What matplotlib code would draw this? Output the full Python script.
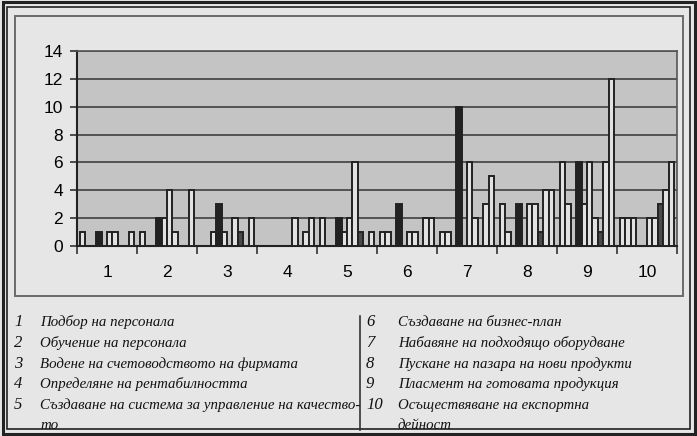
import numpy as np
import matplotlib.pyplot as plt
from matplotlib.patches import Rectangle
from matplotlib.lines import Line2D

groups = ["1", "2", "3", "4", "5", "6", "7", "8", "9", "10"]

# ten bars inside each group left to right
r1 = [1, 1, 0, 0, 2, 1, 1, 3, 6, 2]
r2 = [0, 0, 0, 0, 0, 1, 1, 1, 3, 2]
r3 = [0, 0, 1, 0, 0, 0, 0, 0, 0, 2]
r4 = [1, 2, 3, 0, 2, 3, 10, 3, 6, 0]
r5 = [0, 2, 1, 0, 1, 0, 0, 0, 3, 0]
r6 = [1, 4, 0, 0, 2, 1, 6, 3, 6, 2]
r7 = [1, 1, 2, 2, 6, 1, 2, 3, 2, 2]
r8 = [0, 0, 1, 0, 1, 0, 0, 1, 1, 3]
r9 = [0, 0, 0, 1, 0, 2, 3, 4, 6, 4]
r10 = [1, 4, 2, 2, 1, 2, 5, 4, 12, 6]

left_items = [
    ("1", "Подбор на персонала"),
    ("2", "Обучение на персонала"),
    ("3", "Водене на счетоводството на фирмата"),
    ("4", "Определяне на рентабилността"),
    ("5", "Създаване на система за управление на качество-"),
    ("", "то"),
]
right_items = [
    ("6", "Създаване на бизнес-план"),
    ("7", "Набавяне на подходящо оборудване"),
    ("8", "Пускане на пазара на нови продукти"),
    ("9", "Пласмент на готовата продукция"),
    ("10", "Осъществяване на експортна"),
    ("", "дейност"),
]

series = [r1, r2, r3, r4, r5, r6, r7, r8, r9, r10]
fills = ["#e2e2e2"] * 10
fills[3] = "#222222"
fills[7] = "#4a4a4a"

W, H = 697, 436
fig = plt.figure(figsize=(W / 100, H / 100), dpi=100)
fig.patch.set_facecolor("#e6e6e6")


def fx(px):
    return px / W


def fy(py):
    return 1 - py / H


# outer double frame and chart box
for off, lw in [(2.5, 2.2), (7, 1.2)]:
    fig.add_artist(Rectangle((fx(off), fy(H - off)), fx(W - 2 * off), (H - 2 * off) / H,
                             transform=fig.transFigure, fill=False, edgecolor="#222222", lw=lw))
fig.add_artist(Rectangle((fx(15), fy(296)), fx(683 - 15), (296 - 16) / H,
                         transform=fig.transFigure, fill=False, edgecolor="#6a6a6a", lw=1.4))

ax = fig.add_axes([fx(77), fy(246), fx(677 - 77), (246 - 51) / H])
ax.set_facecolor("#c4c4c4")

x = np.arange(1, len(groups) + 1)
bw = 0.09
for k, vals in enumerate(series):
    v = np.array(vals, dtype=float)
    pos = x - 0.45 + bw * (k + 0.5)
    m = v > 0
    ax.bar(pos[m], v[m], width=bw, color=fills[k], edgecolor="#222222", linewidth=1.4, zorder=3)

ax.set_xlim(0.5, 10.5)
ax.set_ylim(0, 14)
ax.set_yticks(range(0, 15, 2))
ax.yaxis.grid(True, color="#4a4a4a", linewidth=1.3, zorder=1)
ax.set_axisbelow(True)

ax.set_xticks(x)
ax.set_xticklabels(groups)
ax.set_xticks(np.arange(0.5, 11, 1), minor=True)
ax.tick_params(axis="x", which="major", length=0, pad=14, labelsize=12.5)
ax.tick_params(axis="x", which="minor", length=6, width=1.2, color="#333333", direction="out")
ax.tick_params(axis="y", length=5, width=1.2, color="#333333", pad=5, labelsize=12.5)
for lab in ax.get_xticklabels() + ax.get_yticklabels():
    lab.set_fontfamily("Liberation Sans")

for side in ["left", "bottom"]:
    ax.spines[side].set_color("#222222")
    ax.spines[side].set_linewidth(1.5)
for side in ["top", "right"]:
    ax.spines[side].set_color("#555555")
    ax.spines[side].set_linewidth(1.2)

# numbered key under the chart
row_y = [322, 343, 364, 384, 405, 425]
tfont = dict(family="Liberation Serif", style="italic", size=10.7, va="center", ha="left",
             color="#111111")
nfont = dict(tfont, size=12)
for (num, txt), yy in zip(left_items, row_y):
    fig.text(fx(14), fy(yy), num, **nfont)
    fig.text(fx(40), fy(yy), txt, **tfont)
for (num, txt), yy in zip(right_items, row_y):
    fig.text(fx(366), fy(yy), num, **nfont)
    fig.text(fx(398), fy(yy), txt, **tfont)
fig.add_artist(Line2D([fx(360), fx(360)], [fy(316), fy(430)], transform=fig.transFigure,
                      color="#333333", lw=1.2))

fig.savefig("out.png", dpi=100, facecolor=fig.get_facecolor())
